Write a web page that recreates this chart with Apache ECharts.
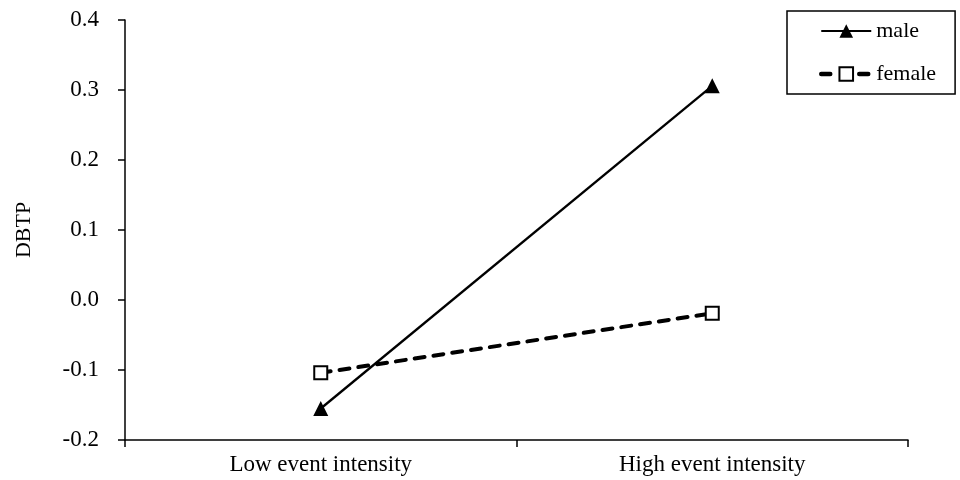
<!DOCTYPE html>
<html><head><meta charset="utf-8">
<script src="https://cdn.jsdelivr.net/npm/echarts@6/dist/echarts.min.js"></script>
<style>html,body{margin:0;padding:0;background:#fff}#c{width:960px;height:480px}</style>
</head><body><div id="c"></div>
<script>
var categories = ['Low event intensity', 'High event intensity'];
var male = [-0.155, 0.306];
var female = [-0.104, -0.019];
var yTicks = [-0.2, -0.1, 0.0, 0.1, 0.2, 0.3, 0.4];

var font = 'Liberation Serif, Times New Roman, serif';
var chart = echarts.init(document.getElementById('c'), null, {renderer: 'canvas'});
chart.setOption({
  animation: false,
  backgroundColor: '#fff',
  grid: {left: 125, right: 52, top: 20, bottom: 40},
  legend: {
    orient: 'vertical', left: 787, top: 11,
    padding: [9, 19, 9, 32], itemGap: 21,
    itemWidth: 50, itemHeight: 17,
    borderColor: '#000', borderWidth: 1.5, borderRadius: 0,
    textStyle: {fontFamily: font, fontSize: 22, color: '#000'},
    data: [
      {name: 'male'},
      {name: 'female', lineStyle: {type: [9, 29], width: 4.5, cap: 'round'}}
    ]
  },
  xAxis: {
    type: 'category', data: categories, boundaryGap: true,
    axisLine: {onZero: false, lineStyle: {color: '#000', width: 1.5}},
    axisTick: {show: true, length: 7, lineStyle: {color: '#000', width: 1.5}},
    axisLabel: {fontFamily: font, fontSize: 23, color: '#000', margin: 13}
  },
  yAxis: {
    type: 'value', min: yTicks[0], max: yTicks[yTicks.length - 1], interval: 0.1,
    name: 'DBTP', nameLocation: 'middle', nameGap: 90, nameRotate: 90,
    nameTextStyle: {fontFamily: font, fontSize: 22, color: '#000'},
    axisLine: {show: true, lineStyle: {color: '#000', width: 1.5}},
    axisTick: {show: true, length: 7, lineStyle: {color: '#000', width: 1.5}},
    splitLine: {show: false},
    axisLabel: {fontFamily: font, fontSize: 23, color: '#000', margin: 26,
      formatter: function (v) { return v.toFixed(1); }}
  },
  series: [
    {name: 'male', type: 'line', data: male,
     symbol: 'triangle', symbolSize: 15,
     itemStyle: {color: '#000'},
     lineStyle: {color: '#000', width: 2.3, type: 'solid'}},
    {name: 'female', type: 'line', data: female,
     symbol: 'rect', symbolSize: 13,
     itemStyle: {color: '#fff', borderColor: '#000', borderWidth: 2},
     lineStyle: {color: '#000', width: 4, type: [10, 9], cap: 'round'}}
  ]
});
</script></body></html>
